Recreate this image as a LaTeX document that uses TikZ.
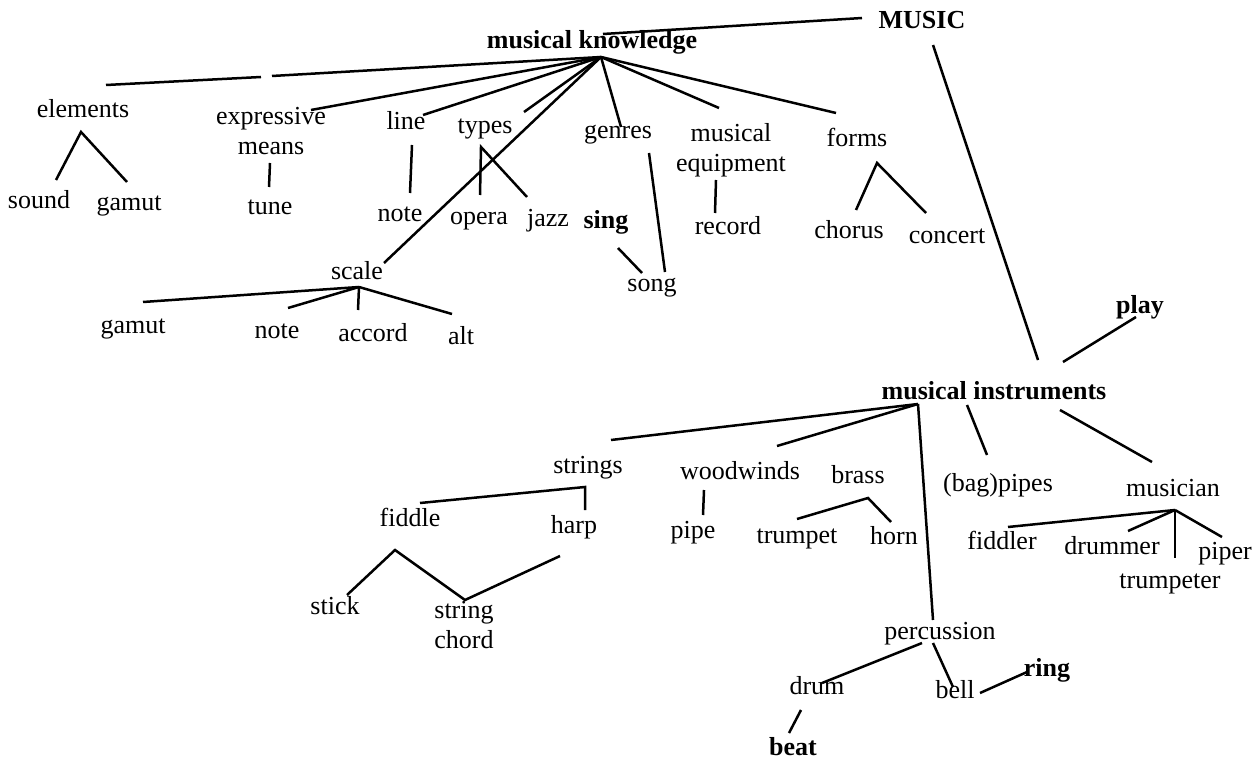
\documentclass[tikz,border=0pt]{standalone}
\usepackage{fontspec}
\setmainfont{Liberation Serif}
\tikzset{
  word/.style  = {inner sep=0, font=\fontsize{26}{30}\selectfont, text height=18pt, text depth=5pt},
  words/.style = {inner sep=0, font=\fontsize{26}{30}\selectfont, align=center},
  kw/.style    = {word, font=\fontsize{26}{30}\selectfont\bfseries},
  link/.style  = {line width=2.5pt}
}

\begin{document}
\begin{tikzpicture}[x=1pt, y=-1pt]
  \useasboundingbox (0,0) rectangle (1257,759);
  % top: MUSIC and musical knowledge
  \node[kw] (music) at (922,22) {MUSIC};
  \node[kw] (mk) at (592,42) {musical knowledge};
  \coordinate (mul) at (862,18); \coordinate (mkt) at (603,34); \draw[link] (mul)--(mkt);
  \coordinate (mkh) at (601,57);
  \coordinate (gapa) at (272,76); \coordinate (gapb) at (261,77); \coordinate (ele) at (106,85);
  \draw[link] (mkh)--(gapa); \draw[link] (gapb)--(ele);

  \node[word] (elements) at (83,111) {elements};
  \node[word] (sound) at (39,202) {sound}; \node[word] (gamut) at (129,204) {gamut};
  \coordinate (elh) at (81,132); \coordinate (sou) at (56,180); \coordinate (gam) at (127,182);
  \draw[link] (sou)--(elh)--(gam);

  \node[words] (expr) at (271,131) {expressive\\means};
  \node[word] (tune) at (270,208) {tune};
  \coordinate (exe) at (311,110); \draw[link] (mkh)--(exe);
  \coordinate (exb) at (270,163); \coordinate (tut) at (269,187); \draw[link] (exb)--(tut);

  \node[word] (line) at (406,123) {line};
  \node[word] (note) at (400,215) {note};
  \coordinate (lne) at (423,115); \draw[link] (mkh)--(lne);
  \coordinate (lnb) at (412,145); \coordinate (not) at (410,193); \draw[link] (lnb)--(not);

  \node[word] (types) at (485,127) {types};
  \node[word] (opera) at (479,218) {opera}; \node[word] (jazz) at (548,220) {jazz};
  \coordinate (tye) at (524,112); \draw[link] (mkh)--(tye);
  \coordinate (tyh) at (481,147); \coordinate (ope) at (480,195); \coordinate (jaz) at (527,197);
  \draw[link] (ope)--(tyh)--(jaz);

  \node[kw] (sing) at (606,222) {sing};
  \node[word] (genres) at (618,132) {genres};
  \node[word] (song) at (652,285) {song};
  \coordinate (gee) at (621,127); \draw[link] (mkh)--(gee);
  \coordinate (geb) at (649,153); \coordinate (sor) at (665,272); \draw[link] (geb)--(sor);
  \coordinate (sib) at (618,248); \coordinate (sol) at (642,273); \draw[link] (sib)--(sol);

  \node[words] (equip) at (731,150) {musical\\equipment};
  \node[word] (record) at (728,228) {record};
  \coordinate (eqe) at (719,108); \draw[link] (mkh)--(eqe);
  \coordinate (eqb) at (716,180); \coordinate (ret) at (715,213); \draw[link] (eqb)--(ret);

  \node[word] (forms) at (857,140) {forms};
  \node[word] (chorus) at (849,232) {chorus}; \node[word] (concert) at (947,237) {concert};
  \coordinate (foe) at (836,113); \draw[link] (mkh)--(foe);
  \coordinate (foh) at (877,163); \coordinate (cho) at (856,210); \coordinate (con) at (926,213);
  \draw[link] (cho)--(foh)--(con);

  % scale
  \node[word] (scale) at (357,273) {scale};
  \coordinate (sce) at (384,263); \draw[link] (mkh)--(sce);
  \node[word] (gamut2) at (133,327) {gamut}; \node[word] (note2) at (277,332) {note};
  \node[word] (accord) at (373,335) {accord}; \node[word] (alt) at (461,338) {alt};
  \coordinate (sch) at (359,287);
  \coordinate (ga2) at (143,302); \coordinate (no2) at (288,308); \coordinate (acc) at (358,310); \coordinate (alz) at (452,314);
  \draw[link] (sch)--(ga2); \draw[link] (sch)--(no2); \draw[link] (sch)--(acc); \draw[link] (sch)--(alz);

  % musical instruments
  \node[kw] (play) at (1140,307) {play};
  \node[kw] (mi) at (994,393) {musical instruments};
  \coordinate (mub) at (933,45); \coordinate (mit) at (1038,360); \draw[link] (mub)--(mit);
  \coordinate (plb) at (1136,317); \coordinate (mir) at (1063,362); \draw[link] (plb)--(mir);
  \coordinate (mih) at (918,404);

  \node[word] (strings) at (588,467) {strings};
  \node[word] (fiddle) at (410,520) {fiddle}; \node[word] (harp) at (574,527) {harp};
  \coordinate (ste) at (611,440); \draw[link] (mih)--(ste);
  \coordinate (fie) at (420,503); \coordinate (sth) at (585,487); \coordinate (hat) at (585,510);
  \draw[link] (fie)--(sth)--(hat);
  \node[word] (stick) at (335,608) {stick}; \node[words] (strchord) at (464,625) {string\\chord};
  \coordinate (sti) at (347,595); \coordinate (fih) at (395,550); \coordinate (stc) at (465,600); \coordinate (hab) at (560,556);
  \draw[link] (sti)--(fih)--(stc)--(hab);

  \node[word] (woodwinds) at (740,473) {woodwinds}; \node[word] (pipe) at (693,532) {pipe};
  \coordinate (woe) at (777,446); \draw[link] (mih)--(woe);
  \coordinate (wob) at (704,490); \coordinate (pit) at (703,515); \draw[link] (wob)--(pit);

  \node[word] (brass) at (858,477) {brass};
  \node[word] (trumpet) at (797,537) {trumpet}; \node[word] (horn) at (894,538) {horn};
  \coordinate (brh) at (868,498); \coordinate (tru) at (797,519); \coordinate (hor) at (891,522);
  \draw[link] (tru)--(brh)--(hor);

  \node[word] (bagpipes) at (998,485) {(bag)pipes};
  \coordinate (mib) at (967,405); \coordinate (bat) at (987,455); \draw[link] (mib)--(bat);

  \node[word] (musician) at (1173,490) {musician};
  \coordinate (mic) at (1060,410); \coordinate (mut) at (1152,462); \draw[link] (mic)--(mut);
  \node[word] (fiddler) at (1002,543) {fiddler}; \node[word] (drummer) at (1112,548) {drummer};
  \node[word] (piper) at (1225,553) {piper}; \node[word] (trumpeter) at (1170,582) {trumpeter};
  \coordinate (muh) at (1175,510);
  \coordinate (fid) at (1008,527); \coordinate (dru) at (1128,531); \coordinate (trt) at (1175,558); \coordinate (pip) at (1222,537);
  \draw[link] (muh)--(fid); \draw[link] (muh)--(dru); \draw[link] (muh)--(trt); \draw[link] (muh)--(pip);

  % percussion
  \node[word] (percussion) at (940,633) {percussion};
  \coordinate (pet) at (933,620); \draw[link] (mih)--(pet);
  \node[word] (drum) at (817,688) {drum}; \node[word] (bell) at (955,692) {bell};
  \node[kw] (ring) at (1047,670) {ring}; \node[kw] (beat) at (793,749) {beat};
  \coordinate (peb) at (922,643); \coordinate (drr) at (822,683); \draw[link] (peb)--(drr);
  \coordinate (pec) at (933,643); \coordinate (bet) at (953,687); \draw[link] (pec)--(bet);
  \coordinate (ber) at (980,693); \coordinate (ril) at (1027,672); \draw[link] (ber)--(ril);
  \coordinate (drb) at (801,710); \coordinate (bea) at (789,733); \draw[link] (drb)--(bea);
\end{tikzpicture}
\end{document}
